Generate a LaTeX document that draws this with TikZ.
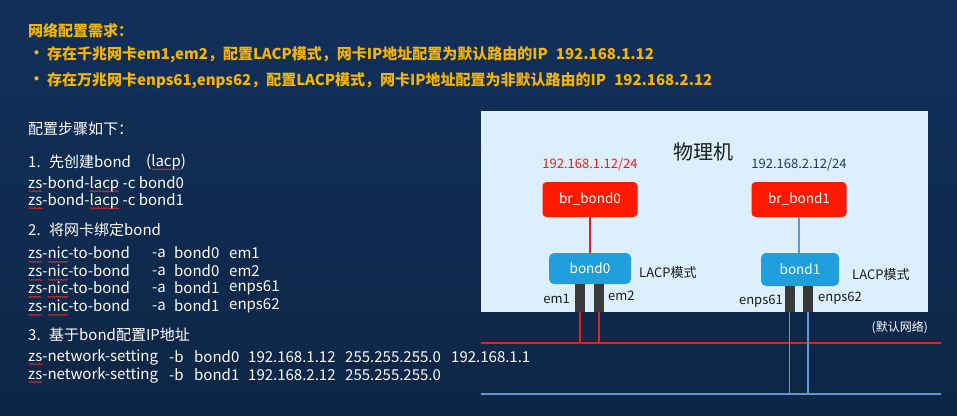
\documentclass[tikz,border=0pt]{standalone}
\usepackage{fontspec}
\setmainfont{Noto Sans CJK SC}
\usetikzlibrary{decorations.pathmorphing}
\definecolor{spellred}{HTML}{E8302A}
% red wavy underline (spell-check mark) drawn under a word
\newdimen\sqwidth
\newcommand\sq[1]{\setbox0\hbox{#1}\sqwidth=\wd0\relax\rlap{\tikz[overlay,x=1pt,y=1pt]\draw[spellred, line width=0.55pt, decorate, decoration={snake, amplitude=0.7pt, segment length=2.6pt}] (0.3pt,-3pt) -- (\the\sqwidth,-3pt);}\box0\relax}
\definecolor{bgtop}{HTML}{11305A}
\definecolor{bgbot}{HTML}{0D2646}
\definecolor{hdr}{HTML}{F5B400}
\definecolor{panel}{HTML}{DBEFFC}
\definecolor{brred}{HTML}{FF1A00}
\definecolor{bondblue}{HTML}{1FA0DC}
\definecolor{portgray}{HTML}{3A3A3A}
\definecolor{netred}{HTML}{EE1C1C}
\definecolor{netblue}{HTML}{5B9BD5}
\definecolor{ipnavy}{HTML}{1F3A6E}
\definecolor{darktext}{HTML}{1A1A1A}
\tikzset{
  hdrtext/.style={anchor=west, inner sep=0pt, text=hdr, font=\fontsize{15}{18}\selectfont\bfseries},
  bodytext/.style={anchor=west, inner sep=0pt, text=white, font=\fontsize{15}{17}\selectfont},
  brbox/.style={fill=brred, rounded corners=4pt, minimum width=95pt, minimum height=35pt, inner sep=0pt, text=white, font=\fontsize{13.5}{16}\selectfont},
  bondbox/.style={fill=bondblue, rounded corners=5pt, minimum height=31pt, inner sep=0pt, text=white, font=\fontsize{13.5}{16}\selectfont},
  portbar/.style={fill=portgray, minimum width=10pt, inner sep=0pt, anchor=north},
  smalllabel/.style={inner sep=0pt, text=darktext, font=\fontsize{13}{15}\selectfont},
  redwire/.style={draw=netred, line width=2pt},
  bluewire/.style={draw=netblue, line width=1.4pt},
}
\begin{document}
\begin{tikzpicture}[x=1pt,y=-1pt]
\useasboundingbox (0,0) rectangle (957,415);
\shade[top color=bgtop, bottom color=bgbot] (0,0) rectangle (957,415);

% requirements
\node[hdrtext] (req) at (28,31) {网络配置需求：};
\node[hdrtext] (b1) at (29,55) {•};
\node[hdrtext] (r1) at (47,55) {存在千兆网卡em1,em2，配置LACP模式，网卡IP地址配置为默认路由的IP\hspace{8pt}192.168.1.12};
\node[hdrtext] (b2) at (29,81) {•};
\node[hdrtext] (r2) at (47,81) {存在万兆网卡enps61,enps62，配置LACP模式，网卡IP地址配置为非默认路由的IP\hspace{8pt}192.168.2.12};

% steps
\node[bodytext] (steps) at (28,129) {配置步骤如下：};
\node[bodytext] (s1n) at (28,162) {1.};
\node[bodytext] (s1) at (49,162) {先创建bond};
\node[bodytext] (s1b) at (146,162) {(\sq{lacp})};
\node[bodytext] (c1) at (28,184) {\sq{zs}-bond-\sq{lacp} -c bond0};
\node[bodytext] (c2) at (28,201) {\sq{zs}-bond-\sq{lacp} -c bond1};

\node[bodytext] (s2n) at (28,230) {2.};
\node[bodytext] (s2) at (49,230) {将网卡绑定bond};
\foreach \y/\b/\n [count=\i] in {253/bond0/em1, 271/bond0/em2, 288/bond1/enps61, 306/bond1/enps62}{
  \node[bodytext] (n\i a) at (28,\y) {\sq{zs}-\sq{nic}-to-bond};
  \node[bodytext] (n\i b) at (152,\y) {-a};
  \node[bodytext] (n\i c) at (174,\y) {\b};
  \node[bodytext] (n\i d) at (229,\y) {\n};
}

\node[bodytext] (s3n) at (28,335) {3.};
\node[bodytext] (s3) at (49,335) {基于bond配置IP地址};
\foreach \y/\b/\ip/\gw [count=\i] in {357/bond0/192.168.1.12/192.168.1.1, 375/bond1/192.168.2.12/}{
  \node[bodytext] (w\i a) at (28,\y) {\sq{zs}-network-setting};
  \node[bodytext] (w\i b) at (169,\y) {-b};
  \node[bodytext] (w\i c) at (194,\y) {\b};
  \node[bodytext] (w\i d) at (248,\y) {\ip};
  \node[bodytext] (w\i e) at (345,\y) {255.255.255.0};
  \node[bodytext] (w\i f) at (451,\y) {\gw};
}

% physical host
\node[fill=panel, inner sep=0pt, minimum width=447pt, minimum height=201pt, anchor=north west] (host) at (481,111) {};
\node[inner sep=0pt, text=darktext, font=\fontsize{20}{24}\selectfont] (hostname) at (703,152) {物理机};
\node[inner sep=0pt, text=netred, font=\fontsize{13}{15}\selectfont] (ip0) at (590,164) {192.168.1.12/24};
\node[inner sep=0pt, text=ipnavy, font=\fontsize{13}{15}\selectfont] (ip1) at (799,164) {192.168.2.12/24};

\node[brbox] (br0) at (590,199.5) {br\_bond0};
\node[brbox] (br1) at (799,199.5) {br\_bond1};
\node[bondbox, minimum width=82pt] (bond0) at (590,268.5) {bond0};
\node[bondbox, minimum width=78pt, minimum height=33pt] (bond1) at (800,269.5) {bond1};
\node[smalllabel, anchor=west] (lacp0) at (639,273) {LACP模式};
\node[smalllabel, anchor=west] (lacp1) at (852,275) {LACP模式};

\draw[draw=netred, line width=2pt] (br0.south) -- (bond0.north);
\draw[draw=netblue, line width=1.6pt] (br1.south) -- (br1.south |- bond1.north);

% bonded ports
\node[portbar, minimum height=28pt] (em1) at (580,284) {};
\node[portbar, minimum height=28pt] (em2) at (598.5,284) {};
\node[portbar, minimum height=26pt] (enps61) at (789.5,286) {};
\node[portbar, minimum height=26pt] (enps62) at (808,286) {};
\node[smalllabel, anchor=east] (lem1) at (570,299) {em1};
\node[smalllabel, anchor=west] (lem2) at (608,296) {em2};
\node[smalllabel, anchor=east] (lenps61) at (783,301) {enps61};
\node[smalllabel, anchor=west] (lenps62) at (818,298) {enps62};

% networks
\coordinate (redL) at (481,343);
\coordinate (redR) at (941,343);
\coordinate (blueL) at (481,394);
\coordinate (blueR) at (941,394);
\draw[redwire] (redL) -- (redR);
\draw[bluewire] (blueL) -- (blueR);
\draw[redwire] (em1.south) -- (em1.south |- redL);
\draw[redwire] (em2.south) -- (em2.south |- redL);
\draw[bluewire] (enps61.south) -- (enps61.south |- blueL);
\draw[bluewire] (enps62.south) -- (enps62.south |- blueL);
\node[inner sep=0pt, anchor=east, text=white, font=\fontsize{12}{14}\selectfont] (defnet) at (928,328) {(默认网络)};
\end{tikzpicture}
\end{document}
